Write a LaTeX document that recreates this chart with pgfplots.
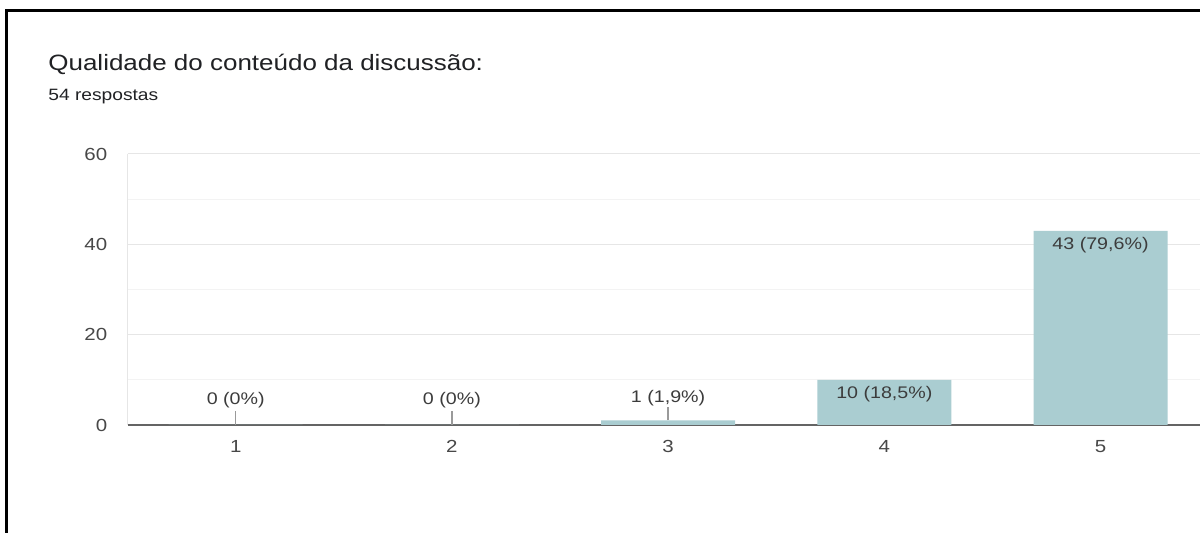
\documentclass[border=0pt]{standalone}
\usepackage{fontspec}
\setmainfont{Liberation Sans}[FakeStretch=1.17]
\usepackage{pgfplots}
\pgfplotsset{compat=1.18}
\definecolor{barc}{RGB}{170,205,209}
\definecolor{titlec}{HTML}{202124}
\definecolor{tickc}{HTML}{484848}
\definecolor{labc}{HTML}{3C3C3C}
\definecolor{axisc}{HTML}{646464}
\definecolor{gridmaj}{HTML}{E6E6E6}
\definecolor{gridmin}{HTML}{F3F3F3}
\definecolor{leadc}{HTML}{9A9A9A}
\begin{document}
\begin{tikzpicture}
\useasboundingbox (0,0) rectangle (600pt,266.5pt);
\fill[white] (0,0) rectangle (600pt,266.5pt);
\draw[line width=1.5pt] (3.25pt,0) -- (3.25pt,261.25pt) -- (600pt,261.25pt);
\node[anchor=base west, inner sep=0pt, text=titlec, font=\fontsize{11.1}{13}\selectfont] at (24pt,231pt) {Qualidade do conteúdo da discussão:};
\node[anchor=base west, inner sep=0pt, text=titlec, font=\fontsize{8.2}{10}\selectfont] at (24pt,216pt) {54 respostas};
\begin{axis}[
  at={(63.8pt,54pt)}, anchor=south west, scale only axis,
  width=536.2pt, height=135.5pt,
  xmin=0.5, xmax=5.46, ymin=0, ymax=60,
  xtick={1,2,3,4,5}, ytick={0,20,40,60}, minor ytick={10,30,50},
  ymajorgrids, yminorgrids,
  major grid style={draw=gridmaj, line width=0.5pt},
  minor grid style={draw=gridmin, line width=0.5pt},
  major tick length=0pt, minor tick length=0pt,
  axis lines=left, axis line style={-},
  x axis line style={draw=axisc, line width=1pt},
  y axis line style={draw=gridmaj, line width=0.5pt},
  /pgf/number format/assume math mode=true,
  tick label style={font=\fontsize{8.75}{10}\selectfont, text=tickc},
  yticklabel style={anchor=east, inner sep=0pt, xshift=-10pt},
  xticklabel style={anchor=north, inner sep=0pt, yshift=-7.5pt},
  clip=false,
]
\addplot[ybar, bar width=0.62, fill=barc, draw=none] coordinates {(1,0) (2,0) (3,1) (4,10) (5,43)};
% leader lines
\addplot[draw=none, mark=none, error bars/.cd, y dir=plus, y explicit, error mark=none,
  error bar style={draw=leadc, line width=0.75pt}]
  coordinates {(1,0) +- (0,3.2) (2,0) +- (0,3.2) (3,1) +- (0,2.9)};
% labels above
\addplot[draw=none, mark=none, nodes near coords, point meta=explicit symbolic,
  nodes near coords style={anchor=base, inner sep=0pt, yshift=10pt, font=\fontsize{8.4}{10}\selectfont, text=labc}]
  coordinates {(1,0) [{0 (0\%)}] (2,0) [{0 (0\%)}]};
\addplot[draw=none, mark=none, nodes near coords, point meta=explicit symbolic,
  nodes near coords style={anchor=base, inner sep=0pt, yshift=8.75pt, font=\fontsize{8.4}{10}\selectfont, text=labc}]
  coordinates {(3,1) [{1 (1,9\%)}]};
% labels inside
\addplot[draw=none, mark=none, nodes near coords, point meta=explicit symbolic,
  nodes near coords style={anchor=base, inner sep=0pt, yshift=-9.5pt, font=\fontsize{8.4}{10}\selectfont, text=labc}]
  coordinates {(4,10) [{10 (18,5\%)}] (5,43) [{43 (79,6\%)}]};
\end{axis}
\end{tikzpicture}
\end{document}
